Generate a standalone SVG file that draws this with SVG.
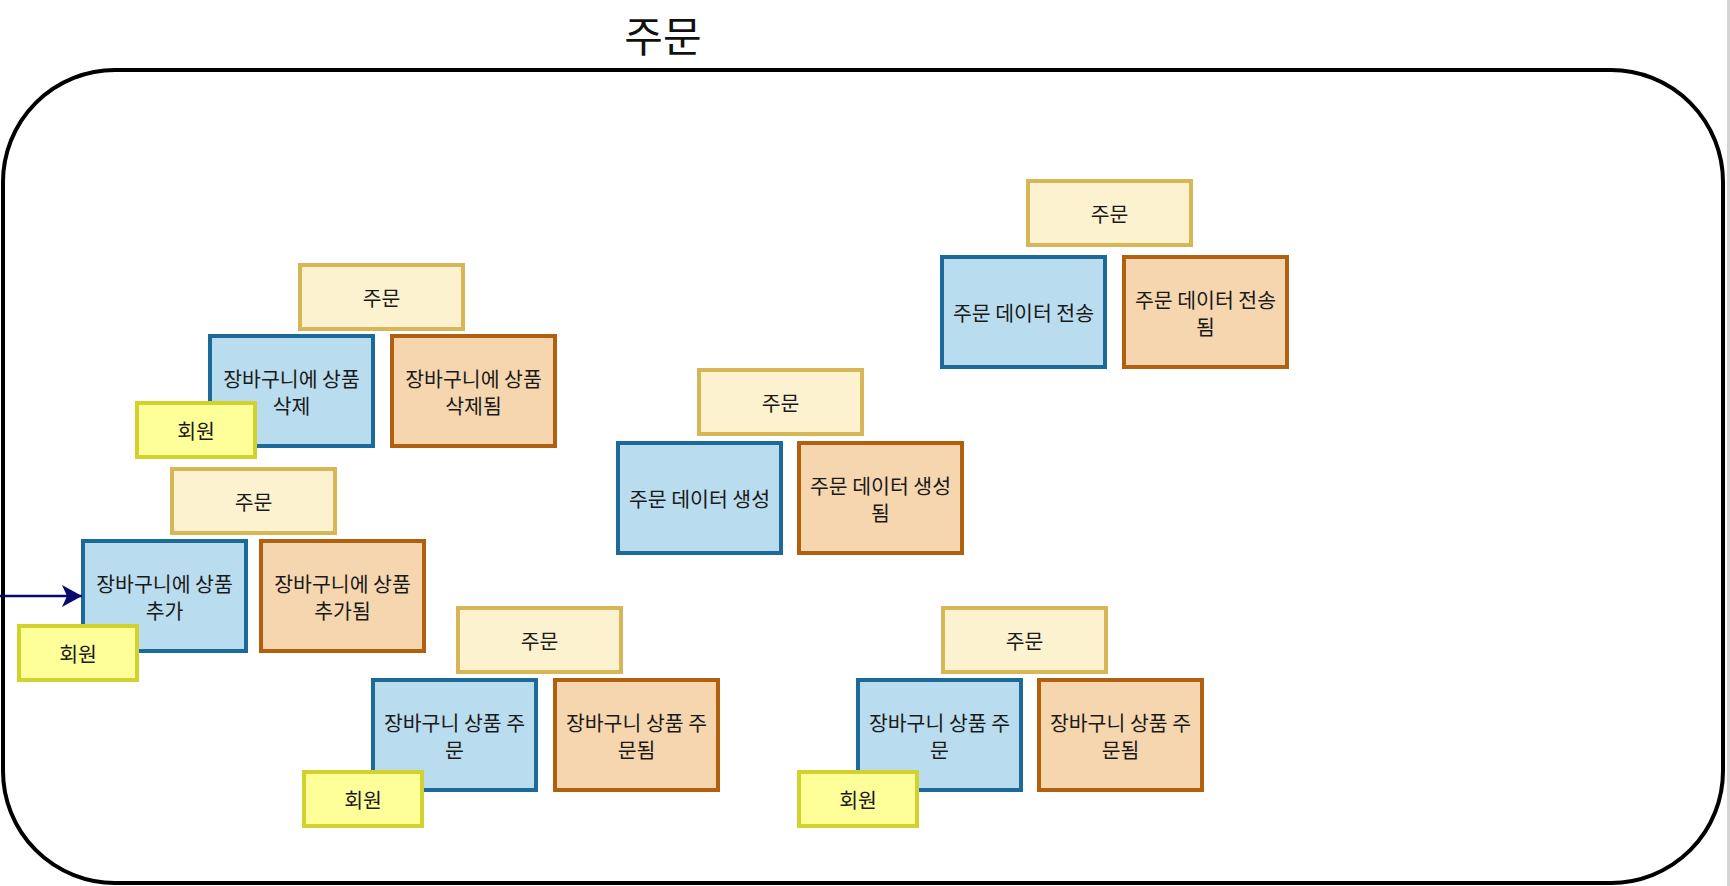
<svg xmlns="http://www.w3.org/2000/svg" width="1730" height="886" viewBox="0 0 1730 886">
<defs>
<style>
text{font-family:"Noto Sans CJK KR","Noto Sans",sans-serif;fill:#1a1a1a;text-anchor:middle;dominant-baseline:central;font-size:20.5px}
.title{font-size:42px;fill:#111}
.agg{fill:#fdf2d0;stroke:#d6b656;stroke-width:4}
.cmd{fill:#b9dcee;stroke:#1b6a9a;stroke-width:4}
.evt{fill:#f6d6ae;stroke:#b0600f;stroke-width:4}
.act{fill:#ffff99;stroke:#d2d22e;stroke-width:4}
</style>
<marker id="arr" markerWidth="22" markerHeight="24" refX="20" refY="11" orient="auto" markerUnits="userSpaceOnUse">
<path d="M0,0 L20,11 L0,22 L5,11 Z" fill="#0a0a6e"/>
</marker>
</defs>
<rect x="0" y="0" width="1730" height="886" fill="#ffffff"/>
<rect x="1727" y="0" width="3" height="886" fill="#d4d4d4"/>
<g id="container">
<rect x="3" y="70" width="1720" height="813" rx="112" ry="112" fill="none" stroke="#000" stroke-width="4"/>
<text class="title" x="663" y="33">주문</text>
</g>
<g id="A-agg"><rect class="agg" x="300" y="265" width="163" height="64"/><text x="381.5" y="297">주문</text></g>
<g id="A-cmd"><rect class="cmd" x="210" y="336" width="163" height="110"/><text x="291.5" y="378">장바구니에 상품</text><text x="291.5" y="405">삭제</text></g>
<g id="A-evt"><rect class="evt" x="392" y="336" width="163" height="110"/><text x="473.5" y="378">장바구니에 상품</text><text x="473.5" y="405">삭제됨</text></g>
<g id="A-act"><rect class="act" x="137" y="403" width="118" height="54"/><text x="196" y="430">회원</text></g>

<g id="B-agg"><rect class="agg" x="172" y="469" width="163" height="64"/><text x="253.5" y="501">주문</text></g>
<g id="B-cmd"><rect class="cmd" x="83" y="541" width="163" height="110"/><text x="164.5" y="583">장바구니에 상품</text><text x="164.5" y="610">추가</text></g>
<g id="B-evt"><rect class="evt" x="261" y="541" width="163" height="110"/><text x="342.5" y="583">장바구니에 상품</text><text x="342.5" y="610">추가됨</text></g>
<g id="B-act"><rect class="act" x="19" y="626" width="118" height="54"/><text x="78" y="653">회원</text></g>

<g id="C-agg"><rect class="agg" x="458" y="608" width="163" height="64"/><text x="539.5" y="640">주문</text></g>
<g id="C-cmd"><rect class="cmd" x="373" y="680" width="163" height="110"/><text x="454.5" y="722">장바구니 상품 주</text><text x="454.5" y="749">문</text></g>
<g id="C-evt"><rect class="evt" x="555" y="680" width="163" height="110"/><text x="636.5" y="722">장바구니 상품 주</text><text x="636.5" y="749">문됨</text></g>
<g id="C-act"><rect class="act" x="304" y="772" width="118" height="54"/><text x="363" y="799">회원</text></g>

<g id="D-agg"><rect class="agg" x="943" y="608" width="163" height="64"/><text x="1024.5" y="640">주문</text></g>
<g id="D-cmd"><rect class="cmd" x="858" y="680" width="163" height="110"/><text x="939.5" y="722">장바구니 상품 주</text><text x="939.5" y="749">문</text></g>
<g id="D-evt"><rect class="evt" x="1039" y="680" width="163" height="110"/><text x="1120.5" y="722">장바구니 상품 주</text><text x="1120.5" y="749">문됨</text></g>
<g id="D-act"><rect class="act" x="799" y="772" width="118" height="54"/><text x="858" y="799">회원</text></g>

<g id="E-agg"><rect class="agg" x="699" y="370" width="163" height="64"/><text x="780.5" y="402">주문</text></g>
<g id="E-cmd"><rect class="cmd" x="618" y="443" width="163" height="110"/><text x="699.5" y="498">주문 데이터 생성</text></g>
<g id="E-evt"><rect class="evt" x="799" y="443" width="163" height="110"/><text x="880.5" y="485">주문 데이터 생성</text><text x="880.5" y="512">됨</text></g>

<g id="F-agg"><rect class="agg" x="1028" y="181" width="163" height="64"/><text x="1109.5" y="213">주문</text></g>
<g id="F-cmd"><rect class="cmd" x="942" y="257" width="163" height="110"/><text x="1023.5" y="312">주문 데이터 전송</text></g>
<g id="F-evt"><rect class="evt" x="1124" y="257" width="163" height="110"/><text x="1205.5" y="299">주문 데이터 전송</text><text x="1205.5" y="326">됨</text></g>

<g id="connectors">
<line x1="0" y1="596" x2="82" y2="596" stroke="#0a0a6e" stroke-width="2.5" marker-end="url(#arr)"/>
</g>
</svg>
